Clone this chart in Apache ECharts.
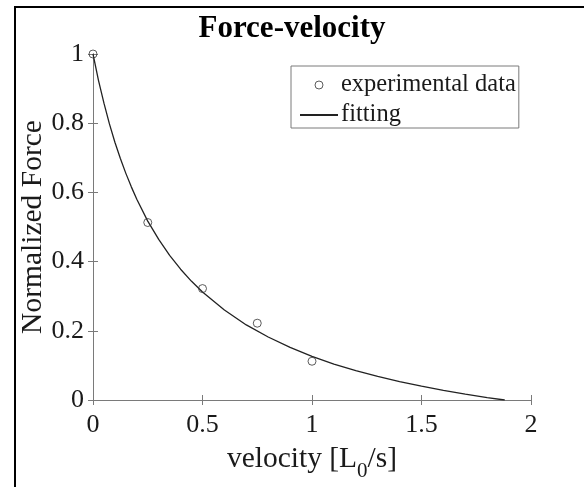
<!DOCTYPE html>
<html>
<head>
<meta charset="utf-8">
<script src="https://cdn.jsdelivr.net/npm/echarts@6/dist/echarts.min.js"></script>
<style>
html,body{margin:0;padding:0;background:#fff;}
#c{width:584px;height:487px;}
</style>
</head>
<body>
<div id="c"></div>
<script>
// ---- data ----
const titleText = 'Force-velocity';
const xTicks = [0, 0.5, 1, 1.5, 2];
const yTicks = [0, 0.2, 0.4, 0.6, 0.8, 1];
const expVelocity = [0, 0.25, 0.5, 0.75, 1.0];
const expForce = [1.0, 0.513, 0.322, 0.222, 0.112];
const fitVelocity = [0, 0.025, 0.05, 0.075, 0.1, 0.125, 0.15, 0.175, 0.2, 0.25, 0.3, 0.35, 0.4, 0.45, 0.5, 0.6, 0.7, 0.8, 0.9, 1.0, 1.1, 1.2, 1.3, 1.4, 1.5, 1.6, 1.7, 1.8, 1.88];
const fitForce = [1.0, 0.924, 0.858, 0.798, 0.745, 0.698, 0.655, 0.616, 0.580, 0.517, 0.464, 0.418, 0.378, 0.343, 0.312, 0.260, 0.217, 0.182, 0.152, 0.126, 0.104, 0.085, 0.068, 0.053, 0.040, 0.028, 0.017, 0.007, 0.0];

const FONT = 'Liberation Serif';
const AXIS_COLOR = '#7a7a7a';
const TEXT_COLOR = '#1a1a1a';

const chart = echarts.init(document.getElementById('c'), null, {renderer: 'canvas'});

const xStep = xTicks[1] - xTicks[0];
const yStep = yTicks[1] - yTicks[0];

function baseAxis(extra) {
  return Object.assign({
    type: 'value',
    splitLine: {show: false},
    nameMoveOverlap: false,
    axisLine: {show: true, lineStyle: {color: AXIS_COLOR, width: 1}},
    axisTick: {show: true, inside: true, length: 5, lineStyle: {color: AXIS_COLOR}},
    axisLabel: {show: true, color: TEXT_COLOR, fontFamily: FONT, fontSize: 26},
  }, extra);
}

const option = {
  backgroundColor: '#fff',
  animation: false,
  title: {
    text: titleText,
    left: 'center',
    top: 8,
    textStyle: {fontFamily: FONT, fontWeight: 'bold', fontSize: 31, color: '#000'}
  },
  grid: {left: 93, right: 53, top: 54, bottom: 86, containLabel: false},
  legend: {
    orient: 'vertical',
    left: 291,
    top: 66,
    padding: [6, 3, 0, 8],
    itemGap: 4,
    itemWidth: 38,
    itemHeight: 8,
    backgroundColor: '#fff',
    borderColor: AXIS_COLOR,
    borderWidth: 1,
    borderRadius: 0,
    textStyle: {fontFamily: FONT, fontSize: 24.5, lineHeight: 26, color: TEXT_COLOR, padding: [0, 0, 0, -2]},
    data: [
      {name: 'experimental data', icon: 'circle', itemStyle: {color: 'rgba(0,0,0,0)', borderColor: '#333', borderWidth: 1}},
      {name: 'fitting', itemStyle: {opacity: 0}}
    ]
  },
  xAxis: [
    baseAxis({
      min: xTicks[0], max: xTicks[xTicks.length - 1], interval: xStep,
      position: 'bottom',
      name: 'velocity [L{sub|0}/s]',
      nameLocation: 'middle',
      nameGap: 37,
      nameTextStyle: {
        fontFamily: FONT, fontSize: 29.5, color: TEXT_COLOR,
        rich: {sub: {fontFamily: FONT, fontSize: 21, color: TEXT_COLOR, verticalAlign: 'bottom', padding: [24, 0, 0, 0]}}
      },
      axisLabel: {show: true, color: TEXT_COLOR, fontFamily: FONT, fontSize: 26, margin: 12}
    }),
    baseAxis({
      min: xTicks[0], max: xTicks[xTicks.length - 1], interval: xStep,
      position: 'top',
      axisLabel: {show: false}
    })
  ],
  yAxis: [
    baseAxis({
      min: yTicks[0], max: yTicks[yTicks.length - 1], interval: yStep,
      position: 'left',
      name: 'Normalized Force',
      nameLocation: 'middle',
      nameGap: 45,
      nameTextStyle: {fontFamily: FONT, fontSize: 29.5, color: TEXT_COLOR},
      axisLabel: {show: true, color: TEXT_COLOR, fontFamily: FONT, fontSize: 26, margin: 9}
    }),
    baseAxis({
      min: yTicks[0], max: yTicks[yTicks.length - 1], interval: yStep,
      position: 'right',
      axisLabel: {show: false}
    })
  ],
  series: [
    {
      name: 'fitting',
      type: 'line',
      xAxisIndex: 0, yAxisIndex: 0,
      data: fitVelocity.map((v, i) => [v, fitForce[i]]),
      symbol: 'none',
      smooth: false,
      lineStyle: {color: '#222', width: 1.3},
      itemStyle: {color: '#222'},
      z: 2
    },
    {
      name: 'experimental data',
      type: 'scatter',
      xAxisIndex: 0, yAxisIndex: 0,
      data: expVelocity.map((v, i) => [v, expForce[i]]),
      symbol: 'circle',
      symbolSize: 8,
      clip: false,
      itemStyle: {color: 'rgba(0,0,0,0)', borderColor: '#333', borderWidth: 1},
      z: 3
    }
  ],
  graphic: [
    {type: 'rect', shape: {x: 15, y: 7, width: 600, height: 520}, style: {fill: null, stroke: '#000', lineWidth: 2}, silent: true, z: 100}
  ]
};

chart.setOption(option);
</script>
</body>
</html>
